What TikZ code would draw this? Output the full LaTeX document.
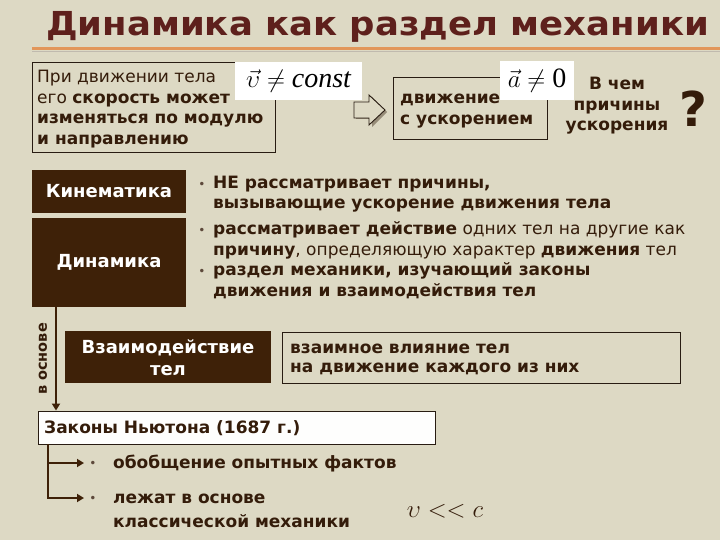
\documentclass[tikz,border=0pt]{standalone}
\usepackage{fontspec}
\setmainfont{DejaVu Sans}
\newfontfamily\titlefont{DejaVu Sans}[FakeStretch=1.075]
\newfontfamily\tms{Liberation Serif}
\usetikzlibrary{arrows.meta}
\definecolor{bg}{RGB}{221,217,196}
\definecolor{boxbrown}{RGB}{62,33,8}
\definecolor{txt}{RGB}{52,28,10}
\definecolor{ttl}{RGB}{94,32,28}
\definecolor{orng}{RGB}{226,150,90}
\definecolor{brd}{RGB}{40,28,18}
\definecolor{shad}{RGB}{150,140,120}
\tikzset{
  body/.style={anchor=base west, inner sep=0pt, text=txt, font=\fontsize{17}{20}\selectfont},
  bodyc/.style={anchor=base, inner sep=0pt, text=txt, font=\fontsize{17}{20}\selectfont\bfseries},
  bul/.style={anchor=base, inner sep=0pt, text=txt!80, font=\fontsize{12}{14}\selectfont},
  darkbox/.style={fill=boxbrown, draw=none, text=white, font=\fontsize{18}{21}\selectfont\bfseries, inner sep=0pt, align=center},
  wtxt/.style={anchor=base, inner sep=0pt, text=white, font=\fontsize{18}{21}\selectfont\bfseries},
  linebox/.style={draw=brd, line width=0.9pt, inner sep=0pt},
  whitebox/.style={fill=white, draw=none, inner sep=0pt},
  conn/.style={draw=boxbrown, line width=1.8pt},
  tip/.style={-{Triangle[length=7pt,width=8pt]}}
}
\begin{document}
\begin{tikzpicture}[x=1pt,y=-1pt]
\useasboundingbox (0,0) rectangle (720,540);
\fill[bg] (0,0) rectangle (720,540);

% title
\node[anchor=base west, inner sep=0pt, text=ttl, font=\titlefont\fontsize{33}{36}\selectfont\bfseries] (title) at (46,36) {Динамика как раздел механики};
\draw[shad!60, line width=1pt] (32,51.5) -- (720,51.5);
\draw[orng, line width=3pt] (32,49) -- (720,49);

% box 1
\node[linebox, minimum width=243pt, minimum height=90pt] (b1) at (153.5,107) {};
\node[whitebox, minimum width=127pt, minimum height=38pt, font=\fontsize{28}{30}\selectfont] (m1) at (298.5,81) {$\vec{\upsilon}\neq{}$\tms\itshape const};
\node[body] (b1l1) at (37,83) {При движении тела};
\node[body] (b1l2) at (37,104) {его \textbf{скорость может}};
\node[body] (b1l3) at (37,124) {\textbf{изменяться по модулю}};
\node[body] (b1l4) at (37,145) {\textbf{и направлению}};

% hollow arrow
\fill[shad] (356,105) -- (372,105) -- (372,97) -- (387,112) -- (372,127) -- (372,119) -- (356,119) -- cycle;
\filldraw[fill=bg, draw=brd, line width=0.9pt] (354,102) -- (369,102) -- (369,95) -- (385,110) -- (369,125) -- (369,118) -- (354,118) -- cycle;

% box 2
\node[linebox, minimum width=154pt, minimum height=62pt] (b2) at (470,108) {};
\node[whitebox, minimum width=74pt, minimum height=39pt, font=\fontsize{28}{30}\selectfont] (m2) at (537,80.5) {$\vec{a}\neq{}$\tms 0};
\node[body] (b2l1) at (400,104) {\textbf{движение}};
\node[body] (b2l2) at (400,125) {\textbf{с ускорением}};

\node[bodyc] (q1) at (617,90) {В чем};
\node[bodyc] (q2) at (617,111) {причины};
\node[bodyc] (q3) at (617,131) {ускорения};
\node[anchor=base, inner sep=0pt, text=txt, font=\fontsize{48}{50}\selectfont\bfseries] (qm) at (693,127) {?};

% kinematika / dinamika
\node[darkbox, minimum width=154pt, minimum height=43pt] (kin) at (109,191.5) {Кинематика};
\node[darkbox, minimum width=154pt, minimum height=89pt] (din) at (109,262.5) {Динамика};

\node[bul] (u1) at (202,189) {•};
\node[body] (t1) at (213,189) {\textbf{НЕ рассматривает причины,}};
\node[body] (t2) at (213,208) {\textbf{вызывающие ускорение движения тела}};
\node[bul] (u2) at (202,235) {•};
\node[body] (t3) at (213,235) {\textbf{рассматривает действие} одних тел на другие как};
\node[body] (t4) at (213,255) {\textbf{причину}, определяющую характер \textbf{движения} тел};
\node[bul] (u3) at (202,275) {•};
\node[body] (t5) at (213,275) {\textbf{раздел механики, изучающий законы}};
\node[body] (t6) at (213,296) {\textbf{движения и взаимодействия тел}};

% interaction
\node[darkbox, minimum width=206pt, minimum height=52pt] (vz) at (168,357) {};
\node[wtxt] (vz1) at (168,353) {Взаимодействие};
\node[wtxt] (vz2) at (168,375) {тел};
\node[linebox, minimum width=398pt, minimum height=51pt] (vl) at (481,357.5) {};
\node[body] (vl1) at (290,353) {\textbf{взаимное влияние тел}};
\node[body] (vl2) at (290,372) {\textbf{на движение каждого из них}};

% Newton
\node[linebox, fill=white!97!bg, minimum width=397pt, minimum height=33pt] (nw) at (236.5,427.5) {};
\node[body] (nwt) at (44,433) {\textbf{Законы Ньютона (1687 г.)}};

% vertical connector with label
\coordinate (c1) at (56,306);
\draw[conn, tip] (c1) -- (c1 |- nw.north);
\node[rotate=90, inner sep=0pt, text=txt, font=\fontsize{14.5}{16}\selectfont\bfseries] (osn) at (43,359) {в основе};

% bottom branches
\coordinate (c2) at (48,444);
\coordinate (a1) at (84,463);
\coordinate (a2) at (84,498);
\draw[conn, tip] (c2) |- (a1);
\draw[conn, tip] (c2) |- (a2);
\node[bul] (u4) at (93,467) {•};
\node[body] (s1) at (113,468) {\textbf{обобщение опытных фактов}};
\node[bul] (u5) at (93,502) {•};
\node[body] (s2) at (113,503) {\textbf{лежат в основе}};
\node[body] (s3) at (113,527) {\textbf{классической механики}};
\node[inner sep=0pt, text=txt, font=\fontsize{25}{28}\selectfont] (vc) at (445,511) {$\upsilon << c$};
\end{tikzpicture}
\end{document}
